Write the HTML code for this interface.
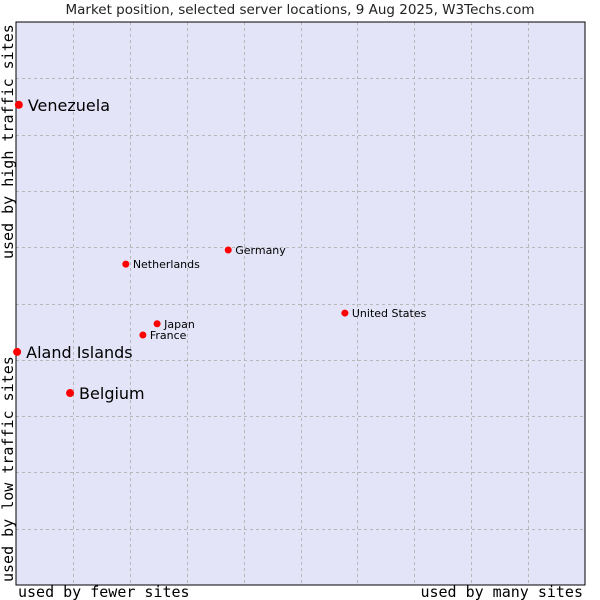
<!DOCTYPE html>
<html><head><meta charset="utf-8"><style>
html,body{margin:0;padding:0;background:#fff;width:600px;height:600px;overflow:hidden}
svg{display:block}
</style></head><body>
<svg id="chart" width="600" height="600" xmlns="http://www.w3.org/2000/svg">
<text x="300" y="14" text-anchor="middle" font-family="DejaVu Sans, sans-serif" font-size="13.5" fill="#222">Market position, selected server locations, 9 Aug 2025, W3Techs.com</text>
<rect x="16" y="22" width="569" height="563" fill="#e3e4f8"/>
<g id="grid"></g>
<rect x="16" y="22" width="569" height="563" fill="none" stroke="#000" stroke-width="1"/>
<g id="points"></g>
<text x="18" y="597" font-family="DejaVu Sans Mono, monospace" font-size="15" fill="#000">used by fewer sites</text>
<text x="583" y="597" text-anchor="end" font-family="DejaVu Sans Mono, monospace" font-size="15" fill="#000">used by many sites</text>
<text transform="translate(13,582) rotate(-90)" font-family="DejaVu Sans Mono, monospace" font-size="15" fill="#000">used by low traffic sites</text>
<text transform="translate(13,259) rotate(-90)" font-family="DejaVu Sans Mono, monospace" font-size="15" fill="#000">used by high traffic sites</text>
</svg>
<script>
const names = ["Venezuela","Aland Islands","Belgium","Netherlands","Germany","Japan","France","United States"];
const xValues = [0.5,0.2,9.5,19.3,37.3,24.8,22.3,57.8];
const yValues = [85.3,41.4,34.1,57.0,59.5,46.4,44.4,48.3];
const bigLabel = [true,true,true,false,false,false,false,false];
const gridTicks = [10,20,30,40,50,60,70,80,90];

const NS="http://www.w3.org/2000/svg";
const X0=16,X1=585,Y0=585,Y1=22;
const sx=v=>X0+v/100*(X1-X0);
const sy=v=>Y0-v/100*(Y0-Y1);
const grid=document.getElementById('grid');
gridTicks.forEach(t=>{
  const v=document.createElementNS(NS,'line');
  v.setAttribute('x1',Math.round(sx(t))+0.5);v.setAttribute('x2',Math.round(sx(t))+0.5);
  v.setAttribute('y1',Y1);v.setAttribute('y2',Y0);
  v.setAttribute('stroke','#b8b8b8');v.setAttribute('stroke-dasharray','3,3');
  
  
  grid.appendChild(v);
  const h=document.createElementNS(NS,'line');
  h.setAttribute('y1',Math.round(sy(t))+0.5);h.setAttribute('y2',Math.round(sy(t))+0.5);
  h.setAttribute('x1',X0);h.setAttribute('x2',X1);
  h.setAttribute('stroke','#b8b8b8');h.setAttribute('stroke-dasharray','3,3');
  
  
  grid.appendChild(h);
});
const pts=document.getElementById('points');
names.forEach((n,i)=>{
  const x=sx(xValues[i]),y=sy(yValues[i]);
  const c=document.createElementNS(NS,'circle');
  c.setAttribute('cx',x);c.setAttribute('cy',y);c.setAttribute('r',bigLabel[i]?4:3.5);
  c.setAttribute('fill','#ff0000');
  
  
  pts.appendChild(c);
  const t=document.createElementNS(NS,'text');
  t.setAttribute('x',x+(bigLabel[i]?9:7));t.setAttribute('y',y+(bigLabel[i]?6:4));
  t.setAttribute('font-family','DejaVu Sans, sans-serif');
  t.setAttribute('font-size',bigLabel[i]?16:11);
  t.setAttribute('fill','#000');
  t.textContent=n;
  
  
  pts.appendChild(t);
});
</script>
</body></html>
